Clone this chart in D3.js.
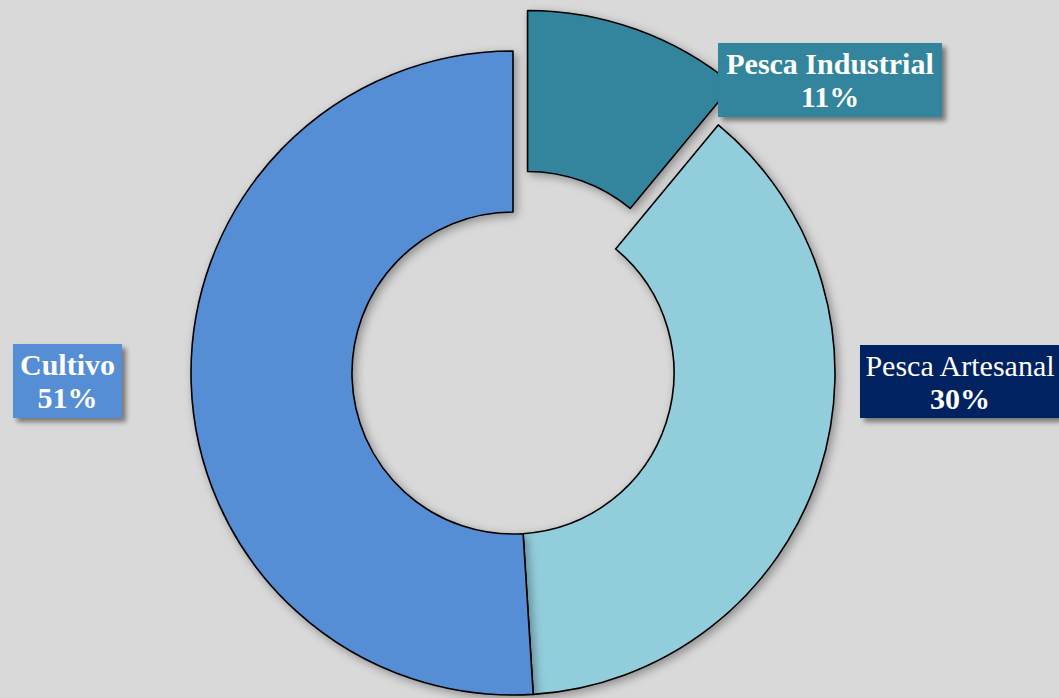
<!DOCTYPE html>
<html><head><meta charset="utf-8">
<script src="https://cdn.jsdelivr.net/npm/d3@7"></script>
<style>html,body{margin:0;padding:0;background:#d9d9d9;overflow:hidden}</style>
</head><body>
<svg id="c" width="1059" height="698"></svg>
<script>
const categories = ["Pesca Industrial", "Pesca Artesanal", "Cultivo"];
const values = [11, 38, 51];
const labelPercents = ["11%", "30%", "51%"];
const sliceColors = ["#31859C", "#92CDDC", "#558ED5"];
const labelFill = ["#31859C", "#002060", "#558ED5"];
const labelNameBold = [true, false, true];
const explode = [43, 0, 0];
// label boxes: [x, y, w, h]
const labelBoxes = [[718, 43, 224, 74], [860, 345, 200, 73], [13, 344, 109, 74]];

const W = 1059, H = 698;
const cx = 513, cy = 373, rOuter = 322, rInner = 161;
const svg = d3.select("#c");
svg.append("rect").attr("width", W).attr("height", H).attr("fill", "#d9d9d9");

const defs = svg.append("defs");
const f = defs.append("filter").attr("id", "sh").attr("x", "-20%").attr("y", "-20%").attr("width", "140%").attr("height", "140%");
f.append("feDropShadow").attr("dx", 3).attr("dy", 3).attr("stdDeviation", 5).attr("flood-color", "#000").attr("flood-opacity", 0.35);
const f2 = defs.append("filter").attr("id", "lsh").attr("x", "-20%").attr("y", "-20%").attr("width", "140%").attr("height", "140%");
f2.append("feDropShadow").attr("dx", 4).attr("dy", 4).attr("stdDeviation", 2.5).attr("flood-color", "#000").attr("flood-opacity", 0.45);

const pie = d3.pie().sort(null).value(d => d)(values);
const arc = d3.arc().innerRadius(rInner).outerRadius(rOuter);

const g = svg.append("g").attr("transform", `translate(${cx},${cy})`);
g.selectAll("path").data(pie).join("path")
  .attr("d", arc)
  .attr("transform", (d, i) => {
    const a = (d.startAngle + d.endAngle) / 2;
    return `translate(${explode[i] * Math.sin(a)},${-explode[i] * Math.cos(a)})`;
  })
  .attr("fill", (d, i) => sliceColors[i])
  .attr("stroke", "#000")
  .attr("stroke-width", 1.6)
  .attr("stroke-linejoin", "round")
  .attr("filter", "url(#sh)");

const lg = svg.append("g");
categories.forEach((c, i) => {
  const [x, y, w, h] = labelBoxes[i];
  lg.append("rect").attr("x", x).attr("y", y).attr("width", w).attr("height", h)
    .attr("fill", labelFill[i]).attr("filter", "url(#lsh)");
  const t = lg.append("text").attr("text-anchor", "middle")
    .attr("font-family", "Liberation Serif, serif").attr("font-size", 30).attr("fill", "#fff");
  t.append("tspan").attr("x", x + w / 2).attr("y", y + 31)
    .attr("font-weight", labelNameBold[i] ? "bold" : "normal").text(c);
  t.append("tspan").attr("x", x + w / 2).attr("y", y + 64)
    .attr("font-weight", "bold").text(labelPercents[i]);
});
</script>
</body></html>
